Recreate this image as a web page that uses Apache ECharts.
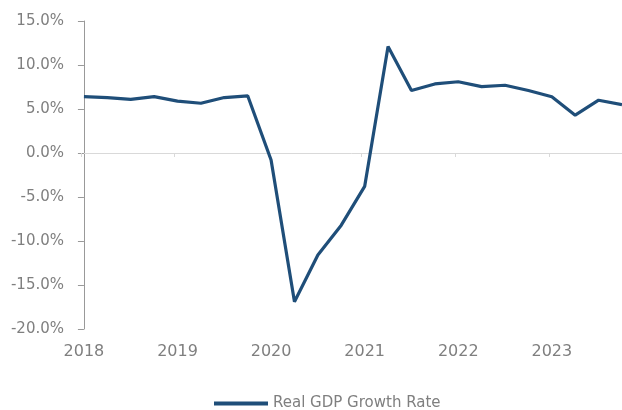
<!DOCTYPE html>
<html>
<head>
<meta charset="utf-8">
<script src="https://cdn.jsdelivr.net/npm/echarts@6/dist/echarts.min.js"></script>
<style>html,body{margin:0;padding:0;background:#fff}#c{width:622px;height:410px}</style>
</head>
<body>
<div id="c"></div>
<script>
// Quarterly points 2018Q1 .. 2023Q4
var quarters = ['2018Q1','2018Q2','2018Q3','2018Q4','2019Q1','2019Q2','2019Q3','2019Q4',
  '2020Q1','2020Q2','2020Q3','2020Q4','2021Q1','2021Q2','2021Q3','2021Q4',
  '2022Q1','2022Q2','2022Q3','2022Q4','2023Q1','2023Q2','2023Q3','2023Q4'];
var gdpGrowth = [6.4, 6.3, 6.1, 6.4, 5.9, 5.65, 6.3, 6.5,
  -0.8, -16.9, -11.6, -8.2, -3.8, 12.1, 7.1, 7.85,
  8.1, 7.55, 7.7, 7.1, 6.4, 4.3, 6.0, 5.5];
var yearLabels = ['2018','2019','2020','2021','2022','2023'];
var yTicks = [-20, -15, -10, -5, 0, 5, 10, 15];

var labelIdx = yearLabels.map(function(_, k){ return k * 4; });
var tickIdx = yearLabels.map(function(_, k){ return k * 4 - 0.125; });
var data = gdpGrowth.map(function(v, i){ return [i, v]; });

var chart = echarts.init(document.getElementById('c'));
var grey = '#7f7f7f';
chart.setOption({
  animation: false,
  grid: {left: 81, right: 0, top: 21, bottom: 81, containLabel: false},
  xAxis: [{
    type: 'value', min: -0.125, max: 23, position: 'bottom',
    axisLine: {show: false, onZero: false},
    axisTick: {show: false},
    splitLine: {show: false},
    axisLabel: {
      customValues: labelIdx, margin: 15, color: grey,
      fontFamily: 'DejaVu Sans', fontSize: 16,
      formatter: function(v){ return yearLabels[Math.round(v / 4)]; }
    }
  }, {
    type: 'value', min: -0.125, max: 23,
    axisLine: {show: true, onZero: true, lineStyle: {color: '#d9d9d9', width: 1}},
    axisTick: {show: true, inside: true, length: 4, customValues: tickIdx, lineStyle: {color: '#d9d9d9'}},
    axisLabel: {show: false},
    splitLine: {show: false}
  }],
  yAxis: {
    type: 'value', min: -20, max: 15, interval: 5,
    axisLine: {show: true, lineStyle: {color: '#999999', width: 1}},
    axisTick: {show: true, length: 6, lineStyle: {color: '#999999'}},
    splitLine: {show: false},
    axisLabel: {
      margin: 17, color: grey, fontFamily: 'DejaVu Sans', fontSize: 15,
      formatter: function(v){ return v.toFixed(1) + '%'; }
    }
  },
  legend: {
    left: 214, top: 396, padding: 0,
    itemWidth: 54, itemHeight: 4, itemGap: 10,
    textStyle: {color: grey, fontFamily: 'DejaVu Sans', fontSize: 15},
    data: [{name: 'Real GDP Growth Rate', icon: 'rect'}]
  },
  series: [{
    name: 'Real GDP Growth Rate', type: 'line', xAxisIndex: 0,
    data: data, showSymbol: false, symbol: 'none',
    lineStyle: {color: '#1f4e79', width: 3.2},
    itemStyle: {color: '#1f4e79'},
    clip: false
  }]
});
</script>
</body>
</html>
